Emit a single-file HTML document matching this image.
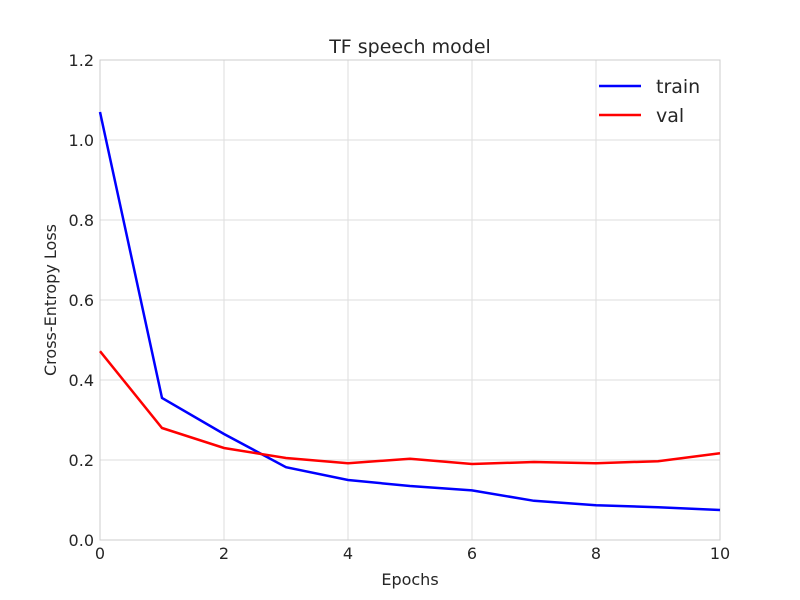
<!DOCTYPE html>
<html><head><meta charset="utf-8"><style>
body{margin:0;background:#fff;}
svg{display:block;font-family:"DejaVu Sans","Liberation Sans",sans-serif;}
</style></head><body>
<svg id="chart" width="800" height="600"></svg>
<script>
const epochs=[0,1,2,3,4,5,6,7,8,9,10];
const trainLoss=[1.07,0.355,0.265,0.182,0.15,0.135,0.124,0.098,0.087,0.082,0.075];
const valLoss=[0.472,0.28,0.23,0.205,0.192,0.203,0.19,0.195,0.192,0.197,0.217];
const xTicks=[0,2,4,6,8,10];
const yTicks=[0.0,0.2,0.4,0.6,0.8,1.0,1.2];
const NS="http://www.w3.org/2000/svg";
const svg=document.getElementById('chart');
const L=100,R=720,T=60,B=540;
const xs=v=>L+(v-0)/(10-0)*(R-L);
const ys=v=>B-(v-0)/(1.2-0)*(B-T);
function mk(tag,attrs,parent){const e=document.createElementNS(NS,tag);for(const k in attrs)e.setAttribute(k,attrs[k]);(parent||svg).appendChild(e);return e;}
const grid=mk('g',{});


xTicks.forEach(t=>{
  const l=mk('line',{x1:xs(t),x2:xs(t),y1:T,y2:B,stroke:'#dddddd','stroke-width':1},grid);
  
  
  const tx=mk('text',{x:xs(t),y:B+19,'text-anchor':'middle','font-size':16,fill:'#262626'});
  tx.textContent=t;
  
  
});
yTicks.forEach(t=>{
  const l=mk('line',{x1:L,x2:R,y1:ys(t),y2:ys(t),stroke:'#dddddd','stroke-width':1},grid);
  
  
  const tx=mk('text',{x:L-6,y:ys(t)+6,'text-anchor':'end','font-size':16,fill:'#262626'});
  tx.textContent=t.toFixed(1);
  
  
});
const frame=mk('rect',{x:L,y:T,width:R-L,height:B-T,fill:'none',stroke:'#cccccc','stroke-width':1});


function series(vals,color,name){
  const p=mk('polyline',{points:vals.map((v,i)=>xs(epochs[i])+','+ys(v)).join(' '),fill:'none',stroke:color,'stroke-width':2.5});
  
  
}
series(trainLoss,'#0000ff','train-line');
series(valLoss,'#ff0000','val-line');
const title=mk('text',{x:410,y:53,'text-anchor':'middle','font-size':19,fill:'#262626'});
title.textContent='TF speech model';


const xl=mk('text',{x:410,y:585,'text-anchor':'middle','font-size':16,fill:'#262626'});
xl.textContent='Epochs';


const yl=mk('text',{x:0,y:0,'text-anchor':'middle','font-size':16,fill:'#262626',transform:'translate(56,300) rotate(-90)'});
yl.textContent='Cross-Entropy Loss';


[['train','#0000ff',86],['val','#ff0000',115]].forEach(([n,c,y])=>{
  const g=mk('g',{});
  
  
  mk('line',{x1:599,x2:641,y1:y,y2:y,stroke:c,'stroke-width':2.5},g);
  const t=mk('text',{x:656,y:y+7,'font-size':19,fill:'#262626'},g);
  t.textContent=n;
});
</script>
</body></html>
